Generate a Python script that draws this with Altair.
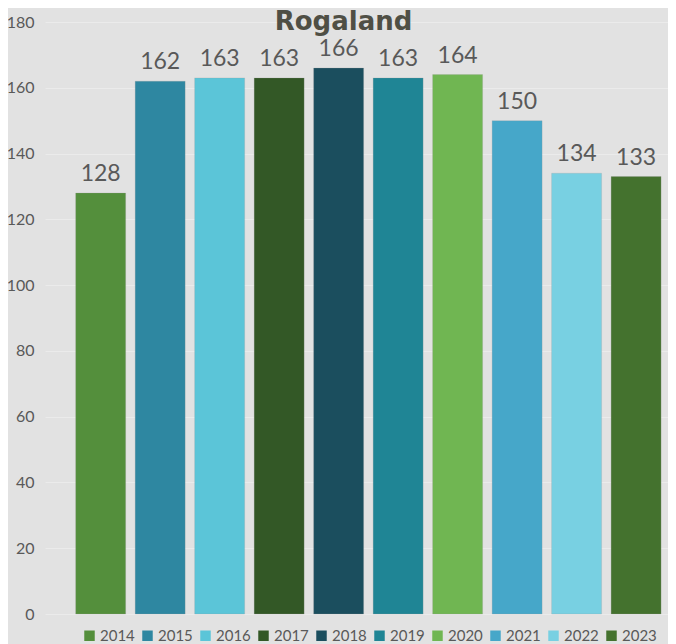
import altair as alt
import pandas as pd

years = ["2014", "2015", "2016", "2017", "2018", "2019", "2020", "2021", "2022", "2023"]
values = [128, 162, 163, 163, 166, 163, 164, 150, 134, 133]
colors = ["#548f3c", "#2e87a1", "#5bc5d8", "#335826", "#1b4e5e",
          "#1f8595", "#70b652", "#46a7c9", "#78d0e2", "#44722e"]

df = pd.DataFrame({"year": years, "value": values})

FONT = "Lato"
TXT = "#595959"

x = alt.X("year:N", title=None,
          scale=alt.Scale(paddingInner=0.16, paddingOuter=0.316, align=0.816),
          axis=None)
y = alt.Y("value:Q", title=None,
          scale=alt.Scale(domain=[0, 180], nice=False),
          axis=alt.Axis(values=list(range(0, 181, 20)), domain=False, ticks=False,
                        grid=True, gridColor="#ebebeb", gridWidth=1,
                        labelFont=FONT, labelFontSize=16, labelColor=TXT,
                        labelPadding=11))

bars = alt.Chart(df).mark_bar(stroke="#9a9a9a", strokeWidth=0.4, strokeOpacity=0.6).encode(
    x=x, y=y,
    color=alt.Color("year:N", scale=alt.Scale(domain=years, range=colors),
                    legend=alt.Legend(orient="none", legendX=37, legendY=606,
                                      direction="horizontal", columns=10,
                                      title=None, symbolType="square",
                                      symbolSize=110, symbolStrokeWidth=0,
                                      labelFont=FONT, labelFontSize=15,
                                      labelColor=TXT, labelOffset=3,
                                      columnPadding=5))
)

labels = alt.Chart(df).mark_text(baseline="bottom", dy=-7, font=FONT,
                                 fontSize=23, color=TXT).encode(
    x=x, y=y, text=alt.Text("value:Q")
)

chart = (bars + labels).properties(
    width=623, height=592,
    autosize=alt.AutoSizeParams(type="none"),
    padding={"left": 37, "top": 14, "right": 0, "bottom": 30},
    background="#e2e2e2",
    title=alt.TitleParams("Rogaland", font="DejaVu Sans", fontSize=26, fontWeight="bold",
                          color="#4f4f45", anchor="middle", offset=0, dy=21, dx=-13),
).configure_view(stroke=None)

chart.save("out.html", embed_options={"renderer": "svg", "actions": False})
